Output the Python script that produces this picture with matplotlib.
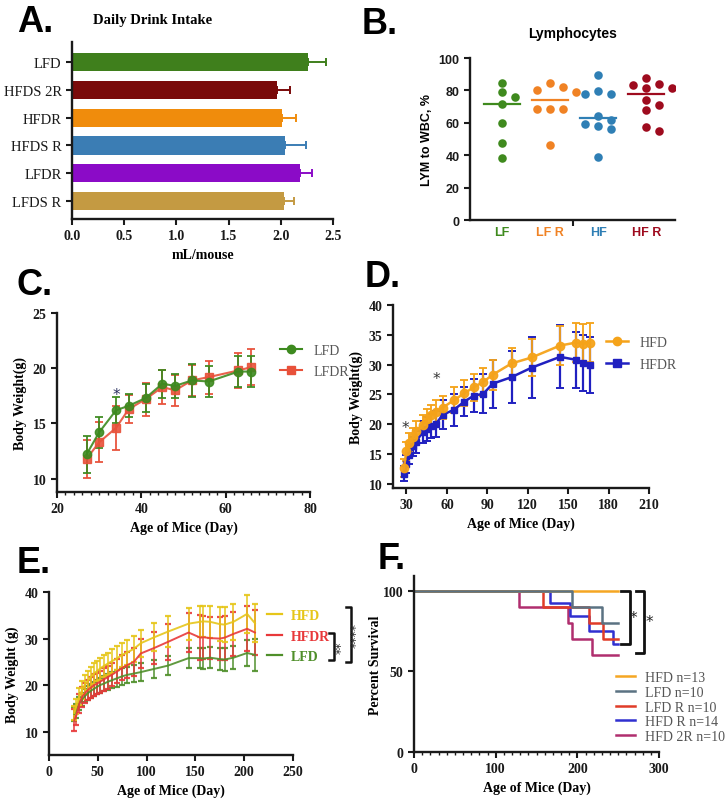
import numpy as np
import matplotlib
matplotlib.use('Agg')
import matplotlib.pyplot as plt
from matplotlib.ticker import MultipleLocator
from matplotlib.lines import Line2D

SERIF = 'Liberation Serif'
SANS = 'Liberation Sans'

# A. Daily drink intake
drink_groups = ['LFD', 'HFDS 2R', 'HFDR', 'HFDS R', 'LFDR', 'LFDS R']
drink_mean = [2.26, 1.96, 2.01, 2.04, 2.18, 2.03]
drink_err = [0.17, 0.13, 0.14, 0.20, 0.12, 0.10]
drink_colors = ['#3f7f1c', '#7a0a0a', '#f08c0c', '#3b7db4', '#8b0bc7', '#c49a42']

# B. Lymphocytes
lym_groups = ['LF', 'LF R', 'HF', 'HF R']
lym_lf = [84.5, 79, 76, 71.5, 60, 47.5, 38]
lym_lfr = [84.5, 82.4, 80, 79.3, 68.4, 68.4, 68.4, 46.3]
lym_hf = [89.5, 79.5, 78, 78, 64, 62, 59, 58.3, 56, 39]
lym_hfr = [87.8, 84, 83.5, 81.4, 81.4, 74.2, 71, 68, 57.2, 55]
lym_colors = ['#3f8a1e', '#f08224', '#2f7fb5', '#9e0b1e']

# C. LFD vs LFDR body weight
c_age = [27, 30, 34, 37, 41, 45, 48, 52, 56, 63, 66]
c_lfd = [12.2, 14.2, 16.2, 16.6, 17.3, 18.6, 18.4, 18.9, 18.8, 19.7, 19.7]
c_lfd_err = [1.7, 1.4, 1.2, 1.05, 1.3, 1.25, 1.1, 1.5, 1.4, 1.4, 1.4]
c_lfdr = [11.8, 13.3, 14.6, 16.3, 17.2, 18.3, 18.0, 18.9, 19.2, 19.8, 20.1]
c_lfdr_err = [1.75, 1.8, 2.0, 1.3, 1.5, 1.5, 1.4, 1.4, 1.5, 1.6, 1.6]

# D. HFD vs HFDR body weight
d_age = [28, 30, 32, 35, 37, 42, 45, 48, 52, 57, 65, 73, 80, 87, 94, 108, 123, 144, 156, 161, 166]
d_hfd = [12.6, 15.5, 16.9, 17.8, 18.9, 19.9, 20.8, 21.5, 22.1, 22.8, 24.0, 25.2, 26.2, 27.1, 28.3, 30.2,
         31.2, 33.2, 33.7, 33.5, 33.7]
d_hfd_err = [1.5, 1.6, 1.6, 1.5, 1.6, 1.7, 1.8, 1.8, 2.0, 2.0, 2.2, 2.2, 2.3, 2.4, 2.5, 2.6, 3.1, 3.2,
             3.2, 3.3, 3.2]
d_hfdr = [11.7, 13.4, 14.9, 16.3, 17.0, 18.7, 19.2, 19.7, 20.1, 21.6, 22.4, 23.8, 24.8, 25.1, 26.8, 27.9,
          29.5, 31.3, 30.8, 30.2, 30.0]
d_hfdr_err = [1.3, 1.5, 1.6, 1.6, 1.8, 1.8, 2.0, 2.0, 2.2, 2.4, 2.7, 2.5, 2.8, 3.3, 4.0, 4.4, 5.1, 5.3,
              4.7, 4.7, 4.7]

# E. HFD / HFDR / LFD body weight
e_age = [26, 28, 31, 34, 37, 40, 43, 46, 49, 52, 56, 60, 65, 70, 75, 80, 87, 94, 108, 122, 143, 155,
         158, 165, 175, 180, 189, 203, 211]
e_hfd = [14.0, 15.5, 17.5, 19.0, 20.2, 21.0, 21.8, 22.5, 23.0, 23.5, 24.1, 24.6, 25.2, 25.8, 26.5, 27.0,
         27.8, 29.0, 30.3, 31.5, 33.2, 33.6, 33.7, 33.6, 33.1, 33.0, 33.6, 35.3, 33.3]
e_hfd_err = [1.5, 1.6, 1.8, 1.9, 2.0, 2.0, 2.1, 2.2, 2.2, 2.3, 2.3, 2.4, 2.5, 2.6, 2.6, 2.7, 2.8, 2.9,
             3.0, 3.3, 3.4, 3.3, 3.4, 3.5, 3.6, 3.7, 3.8, 4.0, 4.1]
e_hfdr = [12.5, 13.5, 16.0, 17.5, 18.3, 19.0, 19.5, 20.0, 20.3, 20.7, 21.2, 21.7, 22.3, 23.0, 23.7, 24.3,
          25.0, 26.8, 28.0, 29.3, 31.3, 30.2, 30.3, 30.1, 30.0, 30.2, 31.0, 32.1, 31.3]
e_hfdr_err = [2.3, 2.0, 2.0, 2.1, 2.1, 2.2, 2.2, 2.3, 2.3, 2.4, 2.4, 2.5, 2.5, 2.6, 2.7, 2.8, 3.0, 3.2,
              3.5, 3.8, 4.2, 4.8, 4.6, 4.5, 4.6, 4.7, 4.8, 4.8, 4.9]
e_lfd = [13.8, 14.5, 16.0, 17.0, 17.7, 18.3, 18.8, 19.2, 19.6, 20.0, 20.3, 20.7, 21.1, 21.5, 21.9, 22.2,
         22.5, 22.8, 23.5, 24.2, 25.8, 25.8, 25.7, 25.9, 25.6, 25.5, 25.9, 26.9, 26.5]
e_lfd_err = [1.5, 1.5, 1.4, 1.4, 1.4, 1.5, 1.5, 1.5, 1.6, 1.6, 1.6, 1.7, 1.7, 1.8, 1.8, 1.8, 1.9, 1.9,
             2.0, 2.1, 2.2, 2.2, 2.3, 2.3, 2.3, 2.4, 2.4, 2.7, 3.5]

# F. Survival
surv_labels = ['HFD n=13', 'LFD n=10', 'LFD R n=10', 'HFD R n=14', 'HFD 2R n=10']
surv_colors = ['#f5a623', '#5b7282', '#e03c28', '#3030d0', '#b02e6e']
surv_t_hfd = [0, 250]
surv_p_hfd = [100, 100]
surv_t_lfd = [0, 194, 230, 250]
surv_p_lfd = [100, 90, 80, 80]
surv_t_lfdr = [0, 158, 214, 231, 250]
surv_p_lfdr = [100, 90, 80, 70, 70]
surv_t_hfdr = [0, 166, 191, 214, 244, 250]
surv_p_hfdr = [100, 92, 84, 75, 67, 67]
surv_t_hfd2r = [0, 129, 188, 193, 218, 250]
surv_p_hfd2r = [100, 90, 80, 70, 60, 60]

W, H = 727, 803
fig = plt.figure(figsize=(W / 100, H / 100), dpi=100)


def box(l, t, r, b):
    return [l / W, 1 - b / H, (r - l) / W, (b - t) / H]


def style(ax, family=SERIF, size=10):
    for s in ['top', 'right']:
        ax.spines[s].set_visible(False)
    for s in ['left', 'bottom']:
        ax.spines[s].set_linewidth(1.7)
        ax.spines[s].set_color('#1a1a1a')
    ax.tick_params(which='major', width=1.5, length=4, color='#1a1a1a', labelsize=size)
    ax.tick_params(which='minor', width=1.0, length=2.5, color='#1a1a1a')
    for lbl in ax.get_xticklabels() + ax.get_yticklabels():
        lbl.set_fontfamily(family)
        lbl.set_fontweight('bold')
        lbl.set_color('#1a1a1a')


def letter(x, y, s):
    fig.text(x / W, 1 - y / H, s, fontsize=26, fontweight='bold', family=SANS,
             va='top', ha='left')


# ---------------- A ----------------
axA = fig.add_axes(box(72, 43, 333, 220))
pos = np.arange(len(drink_groups))[::-1]
axA.barh(pos, drink_mean, height=0.66, color=drink_colors)
for p, m, e, c in zip(pos, drink_mean, drink_err, drink_colors):
    axA.errorbar(m, p, xerr=[[0], [e]], color=c, capsize=3, elinewidth=1.4, capthick=1.4)
axA.set_yticks(pos)
axA.set_yticklabels(drink_groups)
axA.set_xlim(0, 2.5)
axA.set_ylim(-0.65, 5.73)
axA.xaxis.set_major_locator(MultipleLocator(0.5))
axA.xaxis.set_major_formatter(matplotlib.ticker.FormatStrFormatter('%.1f'))
style(axA)
for lbl in axA.get_yticklabels():
    lbl.set_fontweight('normal')
    lbl.set_fontsize(10.5)
axA.set_xlabel('mL/mouse', family=SERIF, fontweight='bold', fontsize=10)
axA.set_title('Daily Drink Intake', family=SERIF, fontweight='bold', fontsize=10.5, loc='left',
              x=0.08, pad=14)
letter(17, 5, 'A.')

# ---------------- B ----------------
axB = fig.add_axes(box(470, 59, 675, 221))


def swarm(vals, step=0.27, thr=5.5):
    placed = []
    offs = []
    for v in vals:
        k = 0
        cands = [0]
        for i in range(1, 8):
            cands += [i, -i]
        for c in cands:
            if all(not (pc == c and abs(pv - v) < thr) for pc, pv in placed):
                k = c
                break
        placed.append((k, v))
        offs.append(k * step)
    return np.array(offs)


for i, (vals, col) in enumerate(zip([lym_lf, lym_lfr, lym_hf, lym_hfr], lym_colors)):
    vals = np.array(vals)
    xs = i + swarm(vals)
    axB.scatter(xs, vals, s=38, color=col, zorder=3, linewidths=0)
    med = np.median(vals)
    axB.plot([i - 0.38, i + 0.38], [med, med], color=col, lw=1.6, zorder=2)
axB.set_xlim(-0.67, 3.6)
axB.set_ylim(0, 100)
axB.set_xticks([1.48])
axB.set_xticklabels([''])
axB.yaxis.set_major_locator(MultipleLocator(20))
style(axB, family=SANS, size=9)
for i, (g, col) in enumerate(zip(lym_groups, lym_colors)):
    axB.text(i, -4, g, color=col, ha='center', va='top', family=SANS, fontweight='bold',
             fontsize=9, transform=axB.transData)
axB.set_ylabel('LYM to WBC, %', family=SANS, fontweight='bold', fontsize=9)
axB.set_title('Lymphocytes', family=SANS, fontweight='bold', fontsize=10, pad=15)
letter(362, 7, 'B.')

# ---------------- C ----------------
axC = fig.add_axes(box(57, 314, 310, 493))
axC.errorbar(c_age, c_lfdr, yerr=c_lfdr_err, fmt='-s', color='#e8513a', ms=5.5, lw=1.5,
             capsize=3, elinewidth=1.4, capthick=1.4, label='LFDR', alpha=0.9)
axC.errorbar(c_age, c_lfd, yerr=c_lfd_err, fmt='-o', color='#3d8a1f', ms=6, lw=1.5,
             capsize=3, elinewidth=1.4, capthick=1.4, label='LFD', alpha=0.9)
axC.text(34, 17.6, '*', ha='center', va='center', fontsize=11, color='#2a3060')
axC.set_xlim(20, 80)
axC.set_ylim(8.8, 25)
axC.xaxis.set_major_locator(MultipleLocator(20))
axC.xaxis.set_minor_locator(MultipleLocator(2))
axC.yaxis.set_major_locator(MultipleLocator(5))
style(axC)
axC.set_xlabel('Age of Mice (Day)', family=SERIF, fontweight='bold', fontsize=10)
axC.set_ylabel('Body Weight(g)', family=SERIF, fontweight='bold', fontsize=10)
hC = [Line2D([], [], color='#3d8a1f', marker='o', ms=6, lw=1.5),
      Line2D([], [], color='#e8513a', marker='s', ms=5.5, lw=1.5)]
axC.legend(hC, ['LFD', 'LFDR'], loc='upper left', bbox_to_anchor=(0.86, 0.86), frameon=False,
           prop={'family': SERIF, 'size': 10}, labelcolor='#555555', handlelength=1.6,
           borderaxespad=0, labelspacing=0.6)
letter(17, 268, 'C.')

# ---------------- D ----------------
axD = fig.add_axes(box(393, 306, 649, 489))
axD.errorbar(d_age, d_hfdr, yerr=d_hfdr_err, fmt='-s', color='#2020c0', ms=5, lw=1.8,
             capsize=3, elinewidth=1.6, capthick=1.4)
axD.errorbar(d_age, d_hfd, yerr=d_hfd_err, fmt='-o', color='#f5a31a', ms=6, lw=1.8,
             capsize=3, elinewidth=1.4, capthick=1.4, alpha=0.95)
axD.text(29, 19.4, '*', ha='center', va='center', fontsize=11, color='#333333')
axD.text(52, 27.6, '*', ha='center', va='center', fontsize=11, color='#333333')
axD.set_xlim(20, 210)
axD.set_ylim(9.3, 40)
axD.xaxis.set_major_locator(MultipleLocator(30))
axD.yaxis.set_major_locator(MultipleLocator(5))
style(axD)
axD.set_xlabel('Age of Mice (Day)', family=SERIF, fontweight='bold', fontsize=10)
axD.set_ylabel('Body Weight(g)', family=SERIF, fontweight='bold', fontsize=10)
hD = [Line2D([], [], color='#f5a31a', marker='o', ms=6, lw=1.8),
      Line2D([], [], color='#2020c0', marker='s', ms=5.5, lw=1.8)]
axD.legend(hD, ['HFD', 'HFDR'], loc='upper left', bbox_to_anchor=(0.81, 0.86), frameon=False,
           prop={'family': SERIF, 'size': 10}, labelcolor='#555555', handlelength=1.6,
           borderaxespad=0, labelspacing=0.6)
letter(365, 260, 'D.')

# ---------------- E ----------------
axE = fig.add_axes(box(49, 593, 293, 756))
e_cols = ['#e6c619', '#e8383a', '#4f8f2a']
for y, err, col in [(e_lfd, e_lfd_err, e_cols[2]), (e_hfdr, e_hfdr_err, e_cols[1]),
                    (e_hfd, e_hfd_err, e_cols[0])]:
    axE.errorbar(e_age, y, yerr=err, fmt='-', color=col, lw=1.4, capsize=2.5, elinewidth=1.2,
                 capthick=1.6, alpha=0.9)
axE.set_xlim(0, 250)
axE.set_ylim(5, 40)
axE.xaxis.set_major_locator(MultipleLocator(50))
axE.yaxis.set_major_locator(MultipleLocator(10))
style(axE)
axE.set_xlabel('Age of Mice (Day)', family=SERIF, fontweight='bold', fontsize=10)
axE.set_ylabel('Body Weight (g)', family=SERIF, fontweight='bold', fontsize=10)
hE = [Line2D([], [], color=c, lw=1.6) for c in e_cols]
axE.legend(hE, ['HFD', 'HFDR', 'LFD'], loc='upper left', bbox_to_anchor=(0.87, 0.93),
           frameon=False, prop={'family': SERIF, 'size': 10, 'weight': 'bold'},
           labelcolor=e_cols, handlelength=1.1, borderaxespad=0, labelspacing=0.55,
           handletextpad=0.6)
# significance brackets
for x0, x1, y0, y1, s, xt in [(287, 292, 31.1, 25.5, '**', 299), (304, 309, 36.8, 25.0, '****', 315)]:
    axE.plot([x0, x1, x1, x0], [y0, y0, y1, y1], color='#111111', lw=1.8, clip_on=False)
    axE.text(xt, (y0 + y1) / 2, s, rotation=90, ha='center', va='center', fontsize=9,
             color='#333333', clip_on=False)
letter(17, 546, 'E.')

# ---------------- F ----------------
axF = fig.add_axes(box(414, 577, 659, 753))
surv = [(surv_t_hfd2r, surv_p_hfd2r, 4), (surv_t_hfdr, surv_p_hfdr, 3), (surv_t_lfdr, surv_p_lfdr, 2),
        (surv_t_hfd, surv_p_hfd, 0), (surv_t_lfd, surv_p_lfd, 1)]
for t, p, k in surv:
    axF.step(t, p, where='post', color=surv_colors[k], lw=1.8)
for x0, x1, y0, y1, xt, yt in [(254, 264, 100, 67, 269, 83), (272, 282, 100, 61.5, 288, 81)]:
    axF.plot([x0, x1, x1, x0], [y0, y0, y1, y1], color='#111111', lw=2)
    axF.text(xt, yt, '*', ha='center', va='center', fontsize=11, color='#222222')
axF.set_xlim(0, 300)
axF.set_ylim(0, 109)
axF.xaxis.set_major_locator(MultipleLocator(100))
axF.xaxis.set_minor_locator(MultipleLocator(10))
axF.set_yticks([0, 50, 100])
style(axF)
axF.set_xlabel('Age of Mice (Day)', family=SERIF, fontweight='bold', fontsize=10)
axF.set_ylabel('Percent Survival', family=SERIF, fontweight='bold', fontsize=10, labelpad=1)
hF = [Line2D([], [], color=c, lw=1.8) for c in surv_colors]
axF.legend(hF, surv_labels, loc='upper left', bbox_to_anchor=(0.8, 0.49), frameon=False,
           prop={'family': SERIF, 'size': 10}, labelcolor='#555555', handlelength=1.4,
           borderaxespad=0, labelspacing=0.12, handletextpad=0.7)
letter(378, 542, 'F.')

fig.savefig('out.png', dpi=100)
